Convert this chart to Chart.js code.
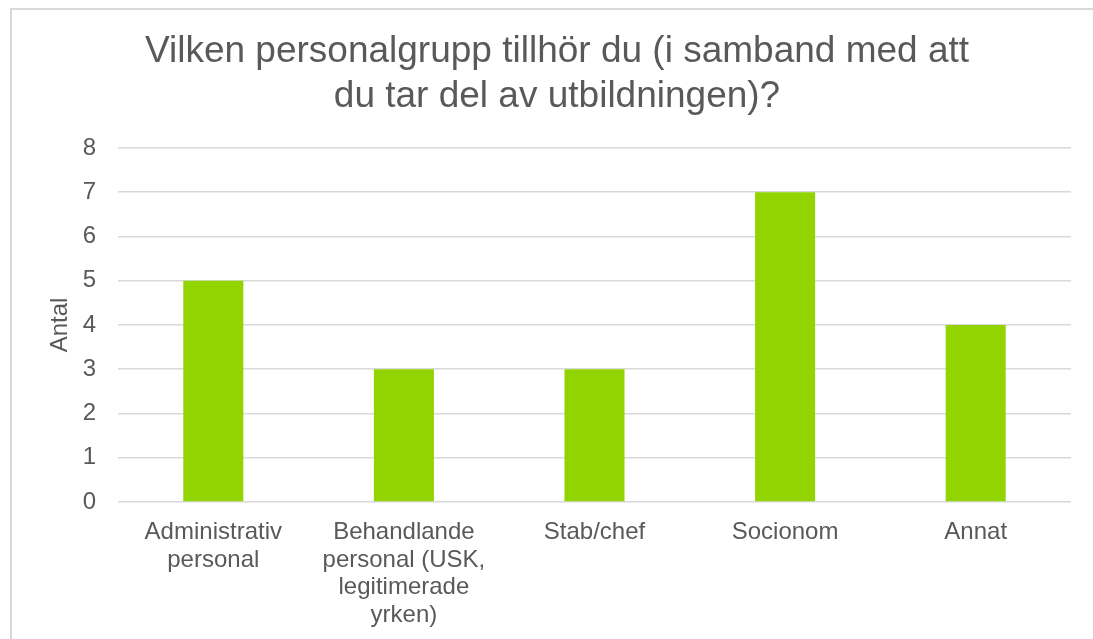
<!DOCTYPE html>
<html>
<head>
<meta charset="utf-8">
<script src="https://cdn.jsdelivr.net/npm/chart.js@4"></script>
<style>
  html, body { margin: 0; padding: 0; background: #ffffff; overflow: hidden; width: 1093px; height: 639px; }
  #box { position: absolute; left: 10px; top: 8px; width: 1200px; height: 700px; border-left: 2px solid #d9d9d9; border-top: 2px solid #d9d9d9; border-right: none; border-bottom: none; background: #fff; }
  canvas { display: block; }
</style>
</head>
<body>
<div id="box"><canvas id="c" width="1092" height="642"></canvas></div>
<script>
const categories = [
  ["Administrativ", "personal"],
  ["Behandlande", "personal (USK,", "legitimerade", "yrken)"],
  "Stab/chef",
  "Socionom",
  "Annat"
];
const values = [5, 3, 3, 7, 4];
const titleLines = ["Vilken personalgrupp tillhör du (i samband med att", "du tar del av utbildningen)?"];
const yAxisTitle = "Antal";
const yMin = 0, yMax = 8, yStep = 1;

const FONT = "'Liberation Sans', Arial, sans-serif";
const TEXT = "#595959";

const shiftTitle = {
  id: 'shiftTitle',
  afterLayout(chart) {
    if (chart.titleBlock) {
      chart.titleBlock.left = 0;
      chart.titleBlock.right = 1090;
      chart.titleBlock.width = 1090;
    }
  }
};

new Chart(document.getElementById('c'), {
  type: 'bar',
  data: {
    labels: categories,
    datasets: [{
      data: values,
      backgroundColor: '#92D400',
      borderWidth: 0,
      barPercentage: 0.315,
      categoryPercentage: 1.0
    }]
  },
  options: {
    responsive: false,
    animation: false,
    layout: { padding: { left: 0, right: 33, top: 0, bottom: 0 } },
    plugins: {
      legend: { display: false },
      tooltip: { enabled: false },
      title: {
        display: true,
        text: titleLines,
        color: TEXT,
        font: { family: FONT, size: 37, weight: 'normal', lineHeight: 1.216 },
        padding: { top: 19.7, bottom: 28.3 }
      }
    },
    scales: {
      x: {
        grid: { display: false, drawTicks: false },
        border: { display: false },
        ticks: {
          color: TEXT,
          font: { family: FONT, size: 24, lineHeight: 1.146 },
          padding: 17,
          maxRotation: 0,
          autoSkip: false
        },
        afterFit(scale) { scale.height = 150; }
      },
      y: {
        min: yMin,
        max: yMax,
        grid: { color: '#d9d9d9', lineWidth: 1.5, drawTicks: false },
        border: { display: false },
        ticks: {
          stepSize: yStep,
          color: TEXT,
          font: { family: FONT, size: 24 },
          padding: 22
        },
        title: {
          display: true,
          text: yAxisTitle,
          color: TEXT,
          font: { family: FONT, size: 24 },
          padding: { top: 34, bottom: 0 }
        },
        afterFit(scale) { scale.width = 106; }
      }
    }
  },
  plugins: [shiftTitle]
});
</script>
</body>
</html>
